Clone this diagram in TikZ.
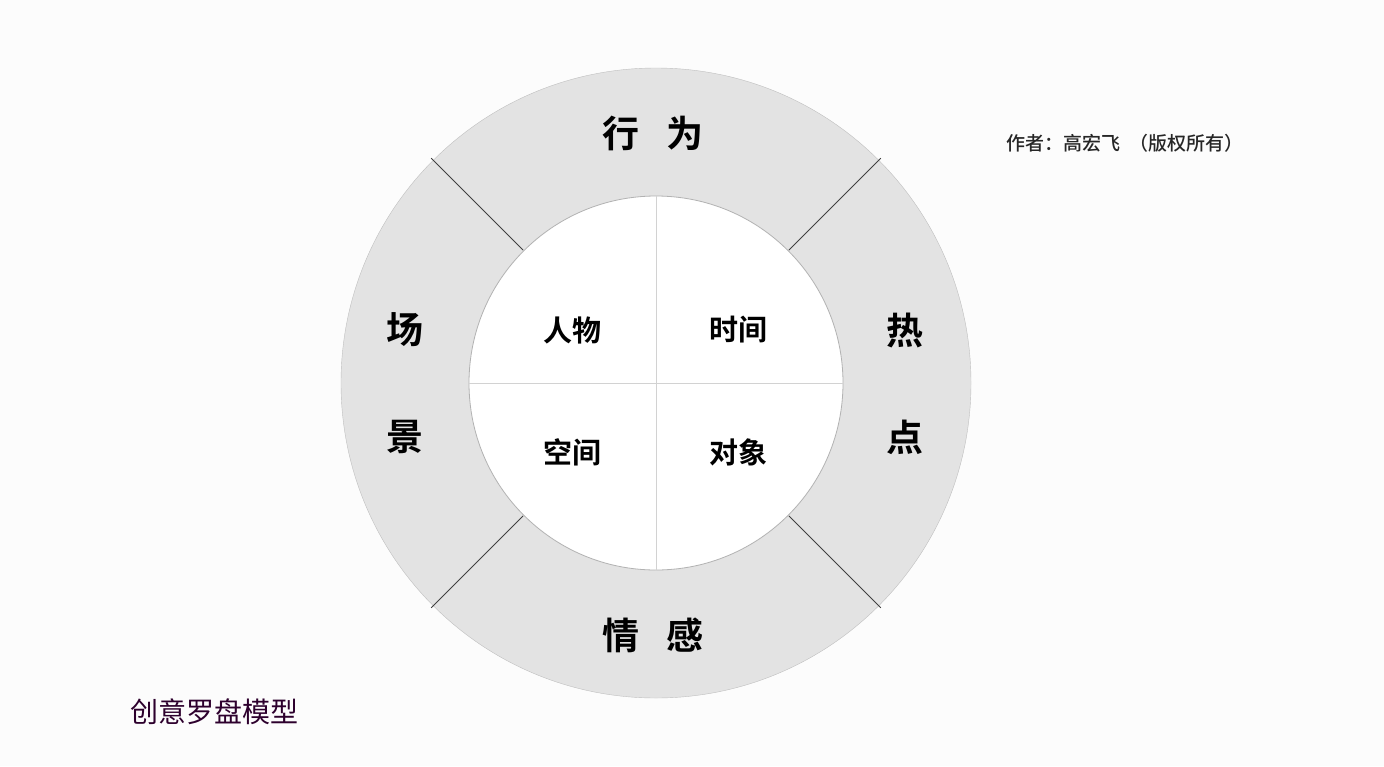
\documentclass[tikz,border=0pt]{standalone}
\usepackage{fontspec}
\usetikzlibrary{calc}
\setmainfont{Noto Sans CJK SC}
\newfontfamily\cjkb{Noto Sans CJK SC Bold}
\newfontfamily\cjkm{Noto Sans CJK SC Medium}
\begin{document}
\begin{tikzpicture}[x=1pt,y=-1pt,
  big/.style={font=\cjkb\fontsize{37}{40}\selectfont},
  mid/.style={font=\cjkb\fontsize{29}{32}\selectfont},
  div/.style={draw=black!75,line width=0.9pt}]
\useasboundingbox[fill=white!98!gray] (0,0) rectangle (1384,766);
\coordinate (c) at (656,383);
\fill[gray!22,draw=gray!50] (c) circle[radius=315];
\fill[white,draw=gray!60,line width=0.8pt] (c) circle[radius=187];
\draw[gray!35] (656,196) -- (656,570) (469,383) -- (843,383);
\foreach \a in {45,135,225,315}
  \draw[div] ($(c)+(\a:188)$) -- ($(c)+(\a:318)$);
\node[big] (t) at (653,133) {行\hspace{0.75em}为};
\node[big] (b) at (653,635) {情\hspace{0.75em}感};
\node[big] (l1) at (405,330) {场};
\node[big] (l2) at (405,437) {景};
\node[big] (r1) at (905,330) {热};
\node[big] (r2) at (905,437) {点};
\node[mid] (a) at (572,330) {人物};
\node[mid] (bb) at (738,330) {时间};
\node[mid] (cc) at (572,452) {空间};
\node[mid] (d) at (738,452) {对象};
\node[font=\cjkm\fontsize{19}{22}\selectfont,text=black!85] (au) at (1125,143) {作者：高宏飞\ \ （版权所有）};
\node[font=\fontsize{28}{30}\selectfont,text=black!65!violet] (ti) at (214,712) {创意罗盘模型};
\end{tikzpicture}
\end{document}
